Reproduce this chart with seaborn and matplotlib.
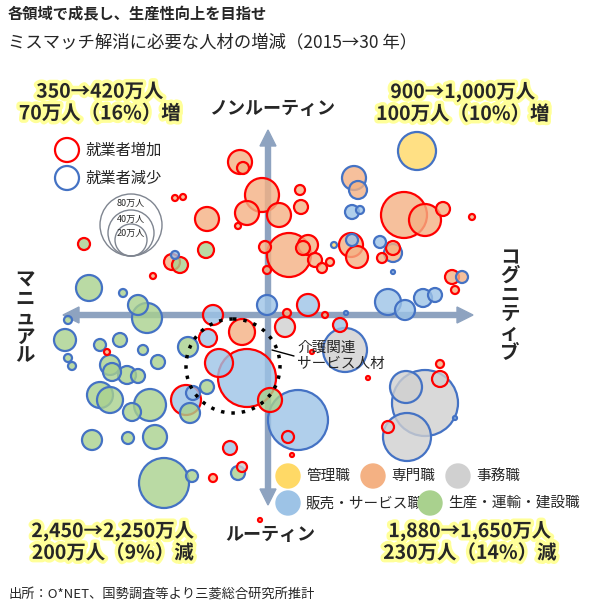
import matplotlib
matplotlib.use("Agg")
import matplotlib.pyplot as plt
import matplotlib.patheffects as pe
from matplotlib.patches import Circle, FancyArrow
import seaborn as sns
import pandas as pd

sns.set_theme(style="white")
plt.rcParams['font.family'] = ['Noto Sans CJK JP', 'DejaVu Sans']

# Groups: K=管理職, S=専門職, J=事務職, H=販売・サービス職, P=生産・運輸・建設職 ; trend: + 増, - 減
# (x position: cognitive→, y position: routine↓, radius, group, trend)
upper_left = [
    (240,162,12,"S","+"),(243,168,6,"S","+"),(262,195,17,"S","+"),(247,213,12,"S","+"),
    (279,215,12,"S","+"),(207,219,12,"S","+"),(175,198,3,"S","+"),(183,197,3,"S","+"),
    (238,226,3,"S","+"),(84,244,6,"P","+"),(206,250,8,"P","+"),(172,262,8,"S","+"),
    (180,265,8,"P","+"),(175,255,4,"H","-"),(153,276,3,"S","+"),(89,288,13,"P","-"),
    (123,293,4,"P","-"),(289,255,22,"S","+"),(265,247,6,"S","+"),(267,270,4,"S","+"),
    (267,305,10,"H","-"),(147,318,15,"P","-"),(138,305,10,"P","-"),(213,315,10,"H","+"),
]
upper_right = [
    (417,151,19,"K","-"),(354,178,12,"S","-"),(358,190,9,"S","-"),(300,190,5,"S","+"),
    (301,207,7,"S","+"),(404,215,23,"S","+"),(425,220,16,"S","+"),(443,209,7,"S","+"),
    (472,217,3,"S","+"),(352,212,7,"H","-"),(360,210,4,"H","-"),(308,245,10,"S","+"),
    (303,248,7,"S","+"),(315,260,7,"S","+"),(322,268,5,"S","+"),(330,262,4,"S","+"),
    (351,245,12,"S","+"),(352,240,6,"H","-"),(357,257,11,"S","+"),(334,245,3,"K","-"),
    (380,242,6,"H","-"),(393,248,7,"S","+"),(393,253,9,"S","-"),(382,258,5,"S","+"),
    (393,272,2,"H","-"),(452,277,7,"S","+"),(462,277,6,"S","-"),(455,290,4,"S","+"),
    (308,305,11,"H","+"),(388,302,13,"H","-"),(405,310,10,"H","-"),(423,298,9,"H","-"),
    (435,295,7,"H","-"),(287,313,4,"S","+"),(325,315,3,"S","+"),(346,313,2,"H","-"),
]
lower_left = [
    (68,320,4,"P","-"),(65,340,11,"P","-"),(100,345,6,"P","-"),(120,340,7,"P","-"),
    (68,358,4,"P","-"),(72,366,4,"P","-"),(107,352,3,"S","+"),(143,350,5,"P","-"),
    (158,362,7,"P","-"),(110,365,10,"P","-"),(112,372,9,"P","-"),(127,375,9,"P","-"),
    (138,376,7,"P","-"),(100,395,13,"P","-"),(110,400,13,"P","-"),(132,412,9,"P","-"),
    (150,405,16,"P","-"),(92,440,10,"P","-"),(128,438,6,"P","-"),(155,437,12,"P","-"),
    (186,400,15,"H","+"),(190,413,10,"P","-"),(188,347,10,"P","-"),(207,387,7,"P","-"),
    (208,338,9,"H","+"),(219,363,14,"H","+"),(247,378,29,"H","+"),(242,332,13,"S","+"),
    (270,400,12,"P","+"),(230,448,7,"H","+"),(242,467,5,"J","+"),(238,473,7,"P","-"),
    (164,483,25,"P","-"),(192,476,6,"P","-"),(213,478,4,"S","+"),(193,393,7,"H","-"),
]
lower_right = [
    (298,420,30,"H","-"),(288,437,6,"H","+"),(285,327,10,"J","+"),(340,325,7,"H","+"),
    (345,350,22,"J","-"),(406,387,16,"J","-"),(425,403,33,"J","-"),(407,437,24,"J","-"),
    (440,379,8,"J","+"),(440,364,4,"S","+"),(388,427,6,"J","+"),(292,455,2,"S","+"),
    (368,378,2,"S","+"),(312,352,2,"S","+"),(455,418,2,"H","-"),(260,520,2,"S","+"),
]

group_names = {"K": "管理職", "S": "専門職", "J": "事務職", "H": "販売・サービス職", "P": "生産・運輸・建設職"}
fills = {"管理職": "#FFD966", "専門職": "#F4B183", "事務職": "#D0D0D0",
         "販売・サービス職": "#9DC3E6", "生産・運輸・建設職": "#A9D18E"}
edges = {"+": "#FF0000", "-": "#4472C4"}

rows = upper_left + upper_right + lower_left + lower_right
df = pd.DataFrame(rows, columns=["x", "y", "r", "g", "trend"])
df["group"] = df["g"].map(group_names)
df["area"] = df["r"] ** 2
df = df.sort_values("r", ascending=False).reset_index(drop=True)

fig = plt.figure(figsize=(5.98, 6.10), dpi=100)
ax = fig.add_axes([0, 0, 1, 1])
ax.set_xlim(0, 598)
ax.set_ylim(610, 0)
ax.axis("off")

ac = "#8EA3C0"
for dx, dy in [(0, -185), (0, 190), (205, 0), (-205, 0)]:
    ax.add_patch(FancyArrow(268, 315, dx, dy, width=5, head_width=16, head_length=16,
                            color=ac, zorder=1, length_includes_head=True))

k = (2 * 0.72) ** 2
sns.scatterplot(data=df, x="x", y="y", size="area", sizes=(k * df.area.min(), k * df.area.max()),
                size_norm=(df.area.min(), df.area.max()), legend=False, ax=ax, zorder=3)
ax.set_xlim(0, 598)
ax.set_ylim(610, 0)
ax.axis("off")
coll = ax.collections[-1]
coll.set_facecolor([matplotlib.colors.to_rgba(fills[g], 0.8) for g in df.group])
coll.set_edgecolor([edges[t] for t in df.trend])
coll.set_linewidth(1.6)
coll.set_sizes(k * df["area"].values)

ax.add_patch(Circle((233, 366), 47, fill=False, ls=(0, (1, 2)), lw=2.5, color="black", zorder=4))
ax.plot([272, 294], [350, 356], color="black", lw=1, zorder=4)
ax.text(297, 356, "介護関連\nサービス人材", fontsize=10.5, va="center", ha="left", linespacing=1.15, zorder=5)

ax.text(8, 13, "各領域で成長し、生産性向上を目指せ", fontsize=11, fontweight="bold", va="center")
ax.text(8, 42, "ミスマッチ解消に必要な人材の増減（2015→30 年）", fontsize=12.5, va="center")
ax.text(8, 594, "出所：O*NET、国勢調査等より三菱総合研究所推計", fontsize=9.5, va="center")

glow = [pe.withStroke(linewidth=5, foreground="#FFFF99")]
for tx, ty, s in [(100, 103, "350→420万人\n70万人（16%）増"), (463, 103, "900→1,000万人\n100万人（10%）増"),
                  (113, 542, "2,450→2,250万人\n200万人（9%）減"), (470, 542, "1,880→1,650万人\n230万人（14%）減")]:
    ax.text(tx, ty, s, fontsize=14, fontweight="bold", ha="center", va="center", linespacing=1.15,
            path_effects=glow, zorder=6)

ax.text(272, 108, "ノンルーティン", fontsize=13, fontweight="bold", ha="center", va="center")
ax.text(270, 535, "ルーティン", fontsize=13, fontweight="bold", ha="center", va="center")
ax.text(510, 305, "コ\nグ\nニ\nテ\nィ\nブ", fontsize=14, fontweight="bold", ha="center", va="center", linespacing=1.0)
ax.text(25, 318, "マ\nニ\nュ\nア\nル", fontsize=14, fontweight="bold", ha="center", va="center", linespacing=1.0)

ax.add_patch(Circle((67, 150), 12, fill=False, ec="#FF0000", lw=1.6))
ax.add_patch(Circle((67, 178), 12, fill=False, ec="#4472C4", lw=1.6))
ax.text(85, 150, "就業者増加", fontsize=11, va="center")
ax.text(85, 178, "就業者減少", fontsize=11, va="center")
for r_, lab in [(31, "80万人"), (23, "40万人"), (16, "20万人")]:
    ax.add_patch(Circle((131, 256 - r_), r_, fill=False, ec="#7F8590", lw=1))
    ax.text(131, 256 - 2 * r_ + 9, lab, fontsize=6.5, ha="center", va="center")

for lx, ly, g in [(288, 476, "管理職"), (373, 476, "専門職"), (458, 476, "事務職"),
                  (288, 503, "販売・サービス職"), (430, 503, "生産・運輸・建設職")]:
    ax.add_patch(Circle((lx, ly), 12, color=fills[g], zorder=5))
    ax.text(lx + 18, ly, g, fontsize=10.5, va="center", zorder=5)

fig.savefig("out.png", dpi=100)
